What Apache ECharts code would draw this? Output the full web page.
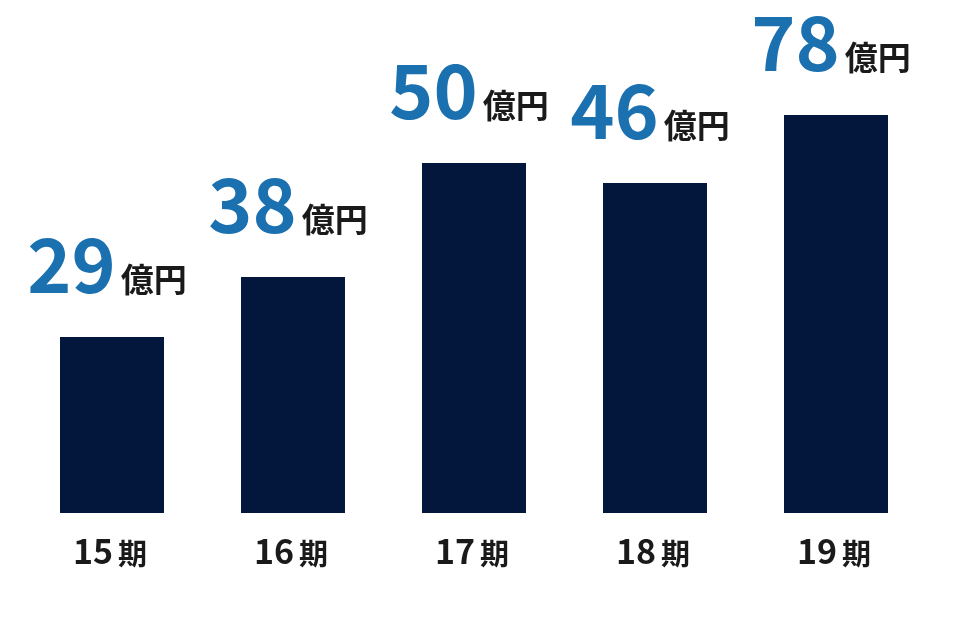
<!DOCTYPE html>
<html><head><meta charset="utf-8">
<script src="https://cdn.jsdelivr.net/npm/echarts@6/dist/echarts.min.js"></script>
<style>html,body{margin:0;padding:0;background:#fff}#c{width:966px;height:640px}</style>
</head><body><div id="c"></div>
<script>
const periods = ['15', '16', '17', '18', '19'];
const periodUnit = '期';
const amounts = [29, 38, 50, 46, 78];
const amountUnit = '億円';
// drawn bar heights (illustrative, not proportional to amounts)
const barHeights = [176, 236, 350, 330, 398];

const FONT = '"Noto Sans CJK JP", "Noto Sans", sans-serif';
const chart = echarts.init(document.getElementById('c'));
chart.setOption({
  animation: false,
  grid: { left: 21.5, right: 39.5, top: 13, bottom: 127 },
  xAxis: {
    type: 'category',
    data: periods.map(p => p + periodUnit),
    axisLine: { show: false }, axisTick: { show: false },
    axisLabel: {
      margin: 19,
      formatter: v => '{n|' + v.replace(periodUnit, '') + '}{k|' + periodUnit + '}',
      rich: {
        n: { fontFamily: FONT, fontWeight: 'bold', fontSize: 34, color: '#1a1a1a', verticalAlign: 'bottom', lineHeight: 36, padding: [0, 5, 0, 0] },
        k: { fontFamily: FONT, fontWeight: 'bold', fontSize: 29, color: '#1a1a1a', verticalAlign: 'bottom', lineHeight: 33, padding: [0, 4, 0, 0] }
      }
    }
  },
  yAxis: { type: 'value', min: 0, max: 500, show: false, splitLine: { show: false } },
  series: [{
    type: 'bar',
    barWidth: 104,
    data: barHeights.map((h, i) => ({ value: h, amount: amounts[i] })),
    itemStyle: { color: '#03163b' },
    label: {
      show: true, position: 'top', distance: 35,
      formatter: p => '{v|' + amounts[p.dataIndex] + '}{u|' + amountUnit + '}',
      rich: {
        v: { fontFamily: FONT, fontWeight: 'bold', fontSize: 75, color: '#1b71b0', verticalAlign: 'bottom', lineHeight: 74, padding: [0, 5, 0, 0] },
        u: { fontFamily: FONT, fontWeight: 'bold', fontSize: 33, color: '#1a1a1a', verticalAlign: 'bottom', lineHeight: 38, padding: [0, 10, 6, 0] }
      }
    }
  }]
});
</script></body></html>
